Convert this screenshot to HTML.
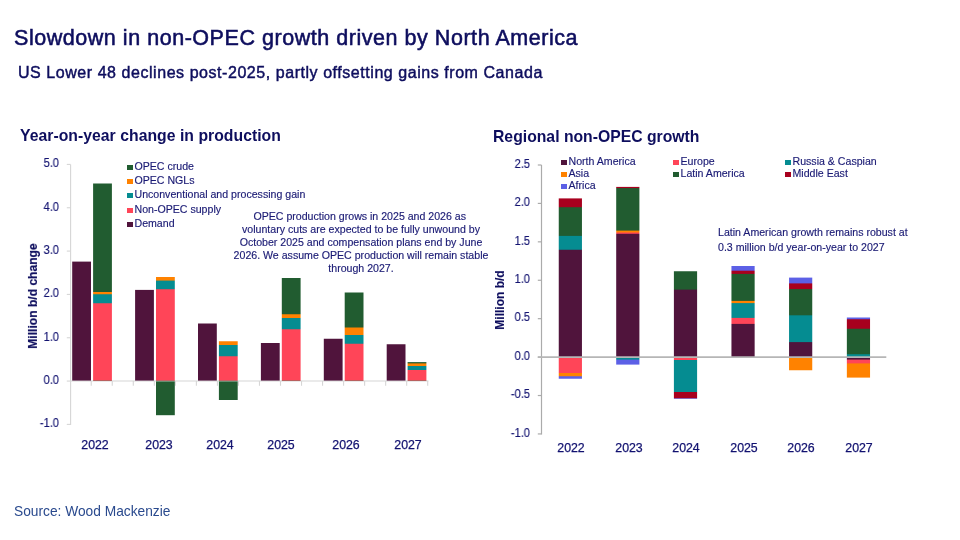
<!DOCTYPE html>
<html><head><meta charset="utf-8">
<style>
html,body{margin:0;padding:0;background:#fff;}
body{width:960px;height:540px;position:relative;overflow:hidden;font-family:"Liberation Sans",sans-serif;}
.a{position:absolute;white-space:nowrap;}
div{will-change:transform;}
#title{left:14px;top:28.25px;-webkit-text-stroke:0.55px #0e0e5e;font-size:21.5px;color:#0e0e5e;letter-spacing:0.54px;line-height:1;}
#sub{left:18px;top:65px;font-size:16px;color:#0e0e5e;letter-spacing:0.55px;-webkit-text-stroke:0.45px #0e0e5e;line-height:1;}
.ct{position:absolute;font-weight:bold;font-size:15.75px;color:#0e0e5e;white-space:nowrap;line-height:1;}
.tl{position:absolute;width:60px;text-align:right;font-size:12px;color:#121270;line-height:14px;white-space:nowrap;transform:scaleX(0.92);transform-origin:right center;-webkit-text-stroke:0.15px #121270;}
.yr{position:absolute;width:60px;text-align:center;font-size:12.35px;color:#121270;line-height:14px;-webkit-text-stroke:0.25px #121270;}
.lg{position:absolute;font-size:10.6px;color:#1a1a74;line-height:13px;white-space:nowrap;-webkit-text-stroke:0.15px #1a1a74;}
.sq{display:inline-block;width:5.5px;height:5.5px;margin-right:2px;vertical-align:0px;}
.ann{position:absolute;font-size:10.6px;color:#1a1a74;line-height:12.9px;text-align:center;white-space:nowrap;-webkit-text-stroke:0.15px #1a1a74;}
.yl{position:absolute;font-weight:bold;font-size:12px;color:#0e0e5e;white-space:nowrap;transform:rotate(-90deg);transform-origin:center;line-height:1;}
svg{position:absolute;left:0;top:0;}
</style></head><body>
<svg width="960" height="540" viewBox="0 0 960 540">
<line x1="70.6" y1="164.42000000000002" x2="70.6" y2="424.9" stroke="#d6d6d6" stroke-width="1.1"/>
<line x1="70.6" y1="381.0" x2="428.41" y2="381.0" stroke="#d6d6d6" stroke-width="1.1"/>
<line x1="66.8" y1="424.40" x2="70.6" y2="424.40" stroke="#d6d6d6" stroke-width="1.1"/>
<line x1="66.8" y1="381.07" x2="70.6" y2="381.07" stroke="#d6d6d6" stroke-width="1.1"/>
<line x1="66.8" y1="337.74" x2="70.6" y2="337.74" stroke="#d6d6d6" stroke-width="1.1"/>
<line x1="66.8" y1="294.41" x2="70.6" y2="294.41" stroke="#d6d6d6" stroke-width="1.1"/>
<line x1="66.8" y1="251.08" x2="70.6" y2="251.08" stroke="#d6d6d6" stroke-width="1.1"/>
<line x1="66.8" y1="207.75" x2="70.6" y2="207.75" stroke="#d6d6d6" stroke-width="1.1"/>
<line x1="66.8" y1="164.42" x2="70.6" y2="164.42" stroke="#d6d6d6" stroke-width="1.1"/>
<line x1="91.23" y1="381.07" x2="91.23" y2="385.77" stroke="#d6d6d6" stroke-width="1.1"/>
<line x1="112.26" y1="381.07" x2="112.26" y2="385.77" stroke="#d6d6d6" stroke-width="1.1"/>
<line x1="133.29" y1="381.07" x2="133.29" y2="385.77" stroke="#d6d6d6" stroke-width="1.1"/>
<line x1="154.32" y1="381.07" x2="154.32" y2="385.77" stroke="#d6d6d6" stroke-width="1.1"/>
<line x1="175.35" y1="381.07" x2="175.35" y2="385.77" stroke="#d6d6d6" stroke-width="1.1"/>
<line x1="196.38" y1="381.07" x2="196.38" y2="385.77" stroke="#d6d6d6" stroke-width="1.1"/>
<line x1="217.41" y1="381.07" x2="217.41" y2="385.77" stroke="#d6d6d6" stroke-width="1.1"/>
<line x1="238.44" y1="381.07" x2="238.44" y2="385.77" stroke="#d6d6d6" stroke-width="1.1"/>
<line x1="259.47" y1="381.07" x2="259.47" y2="385.77" stroke="#d6d6d6" stroke-width="1.1"/>
<line x1="280.50" y1="381.07" x2="280.50" y2="385.77" stroke="#d6d6d6" stroke-width="1.1"/>
<line x1="301.53" y1="381.07" x2="301.53" y2="385.77" stroke="#d6d6d6" stroke-width="1.1"/>
<line x1="322.56" y1="381.07" x2="322.56" y2="385.77" stroke="#d6d6d6" stroke-width="1.1"/>
<line x1="343.59" y1="381.07" x2="343.59" y2="385.77" stroke="#d6d6d6" stroke-width="1.1"/>
<line x1="364.62" y1="381.07" x2="364.62" y2="385.77" stroke="#d6d6d6" stroke-width="1.1"/>
<line x1="385.65" y1="381.07" x2="385.65" y2="385.77" stroke="#d6d6d6" stroke-width="1.1"/>
<line x1="406.68" y1="381.07" x2="406.68" y2="385.77" stroke="#d6d6d6" stroke-width="1.1"/>
<line x1="427.71" y1="381.07" x2="427.71" y2="385.77" stroke="#d6d6d6" stroke-width="1.1"/>
<mask id="c1" maskUnits="userSpaceOnUse" x="0" y="0" width="960" height="540"><rect x="72.20" y="0" width="18.80" height="540" fill="#fff"/></mask><g mask="url(#c1)"><rect x="69.20" y="261.60" width="24.80" height="119.00" fill="#50143c"/></g>
<mask id="c2" maskUnits="userSpaceOnUse" x="0" y="0" width="960" height="540"><rect x="93.10" y="0" width="18.80" height="540" fill="#fff"/></mask><g mask="url(#c2)"><rect x="90.10" y="183.50" width="24.80" height="197.10" fill="#215c30"/><rect x="90.10" y="292.00" width="24.80" height="88.60" fill="#ff8200"/><rect x="90.10" y="294.25" width="24.80" height="86.35" fill="#058c91"/><rect x="90.10" y="303.25" width="24.80" height="77.35" fill="#ff4558"/></g>
<mask id="c3" maskUnits="userSpaceOnUse" x="0" y="0" width="960" height="540"><rect x="135.10" y="0" width="18.80" height="540" fill="#fff"/></mask><g mask="url(#c3)"><rect x="132.10" y="289.90" width="24.80" height="90.70" fill="#50143c"/></g>
<mask id="c4" maskUnits="userSpaceOnUse" x="0" y="0" width="960" height="540"><rect x="156.00" y="0" width="18.80" height="540" fill="#fff"/></mask><g mask="url(#c4)"><rect x="153.00" y="277.00" width="24.80" height="103.60" fill="#ff8200"/><rect x="153.00" y="280.60" width="24.80" height="100.00" fill="#058c91"/><rect x="153.00" y="289.20" width="24.80" height="91.40" fill="#ff4558"/><rect x="153.00" y="381.35" width="24.80" height="33.85" fill="#215c30"/></g>
<mask id="c5" maskUnits="userSpaceOnUse" x="0" y="0" width="960" height="540"><rect x="198.00" y="0" width="18.80" height="540" fill="#fff"/></mask><g mask="url(#c5)"><rect x="195.00" y="323.50" width="24.80" height="57.10" fill="#50143c"/></g>
<mask id="c6" maskUnits="userSpaceOnUse" x="0" y="0" width="960" height="540"><rect x="218.90" y="0" width="18.80" height="540" fill="#fff"/></mask><g mask="url(#c6)"><rect x="215.90" y="341.25" width="24.80" height="39.35" fill="#ff8200"/><rect x="215.90" y="345.00" width="24.80" height="35.60" fill="#058c91"/><rect x="215.90" y="356.25" width="24.80" height="24.35" fill="#ff4558"/><rect x="215.90" y="381.35" width="24.80" height="18.65" fill="#215c30"/></g>
<mask id="c7" maskUnits="userSpaceOnUse" x="0" y="0" width="960" height="540"><rect x="260.90" y="0" width="18.80" height="540" fill="#fff"/></mask><g mask="url(#c7)"><rect x="257.90" y="343.00" width="24.80" height="37.60" fill="#50143c"/></g>
<mask id="c8" maskUnits="userSpaceOnUse" x="0" y="0" width="960" height="540"><rect x="281.80" y="0" width="18.80" height="540" fill="#fff"/></mask><g mask="url(#c8)"><rect x="278.80" y="278.00" width="24.80" height="102.60" fill="#215c30"/><rect x="278.80" y="314.25" width="24.80" height="66.35" fill="#ff8200"/><rect x="278.80" y="318.00" width="24.80" height="62.60" fill="#058c91"/><rect x="278.80" y="329.25" width="24.80" height="51.35" fill="#ff4558"/></g>
<mask id="c9" maskUnits="userSpaceOnUse" x="0" y="0" width="960" height="540"><rect x="323.80" y="0" width="18.80" height="540" fill="#fff"/></mask><g mask="url(#c9)"><rect x="320.80" y="338.75" width="24.80" height="41.85" fill="#50143c"/></g>
<mask id="c10" maskUnits="userSpaceOnUse" x="0" y="0" width="960" height="540"><rect x="344.70" y="0" width="18.80" height="540" fill="#fff"/></mask><g mask="url(#c10)"><rect x="341.70" y="292.50" width="24.80" height="88.10" fill="#215c30"/><rect x="341.70" y="327.50" width="24.80" height="53.10" fill="#ff8200"/><rect x="341.70" y="335.00" width="24.80" height="45.60" fill="#058c91"/><rect x="341.70" y="343.75" width="24.80" height="36.85" fill="#ff4558"/></g>
<mask id="c11" maskUnits="userSpaceOnUse" x="0" y="0" width="960" height="540"><rect x="386.70" y="0" width="18.80" height="540" fill="#fff"/></mask><g mask="url(#c11)"><rect x="383.70" y="344.25" width="24.80" height="36.35" fill="#50143c"/></g>
<mask id="c12" maskUnits="userSpaceOnUse" x="0" y="0" width="960" height="540"><rect x="407.60" y="0" width="18.80" height="540" fill="#fff"/></mask><g mask="url(#c12)"><rect x="404.60" y="362.10" width="24.80" height="18.50" fill="#215c30"/><rect x="404.60" y="363.40" width="24.80" height="17.20" fill="#ff8200"/><rect x="404.60" y="366.00" width="24.80" height="14.60" fill="#058c91"/><rect x="404.60" y="370.00" width="24.80" height="10.60" fill="#ff4558"/></g>
<mask id="c13" maskUnits="userSpaceOnUse" x="0" y="0" width="960" height="540"><rect x="558.75" y="0" width="23.20" height="540" fill="#fff"/></mask><g mask="url(#c13)"><rect x="555.75" y="198.40" width="29.20" height="158.70" fill="#a8001e"/><rect x="555.75" y="207.20" width="29.20" height="149.90" fill="#215c30"/><rect x="555.75" y="235.90" width="29.20" height="121.20" fill="#058c91"/><rect x="555.75" y="249.75" width="29.20" height="107.35" fill="#50143c"/><rect x="555.75" y="357.10" width="29.20" height="21.65" fill="#5c60e6"/><rect x="555.75" y="357.10" width="29.20" height="19.15" fill="#ff8200"/><rect x="555.75" y="357.10" width="29.20" height="15.90" fill="#ff4558"/></g>
<mask id="c14" maskUnits="userSpaceOnUse" x="0" y="0" width="960" height="540"><rect x="616.20" y="0" width="23.20" height="540" fill="#fff"/></mask><g mask="url(#c14)"><rect x="613.20" y="186.90" width="29.20" height="170.20" fill="#a8001e"/><rect x="613.20" y="188.10" width="29.20" height="169.00" fill="#215c30"/><rect x="613.20" y="230.60" width="29.20" height="126.50" fill="#ff8200"/><rect x="613.20" y="232.50" width="29.20" height="124.60" fill="#ff4558"/><rect x="613.20" y="233.80" width="29.20" height="123.30" fill="#50143c"/><rect x="613.20" y="357.10" width="29.20" height="7.50" fill="#5c60e6"/><rect x="613.20" y="357.10" width="29.20" height="2.50" fill="#058c91"/></g>
<mask id="c15" maskUnits="userSpaceOnUse" x="0" y="0" width="960" height="540"><rect x="673.90" y="0" width="23.20" height="540" fill="#fff"/></mask><g mask="url(#c15)"><rect x="670.90" y="271.25" width="29.20" height="85.85" fill="#215c30"/><rect x="670.90" y="289.60" width="29.20" height="67.50" fill="#50143c"/><rect x="670.90" y="357.10" width="29.20" height="41.65" fill="#5c60e6"/><rect x="670.90" y="357.10" width="29.20" height="41.15" fill="#a8001e"/><rect x="670.90" y="357.10" width="29.20" height="34.90" fill="#058c91"/><rect x="670.90" y="357.10" width="29.20" height="2.90" fill="#ff4558"/></g>
<mask id="c16" maskUnits="userSpaceOnUse" x="0" y="0" width="960" height="540"><rect x="731.45" y="0" width="23.20" height="540" fill="#fff"/></mask><g mask="url(#c16)"><rect x="728.45" y="266.00" width="29.20" height="91.10" fill="#5c60e6"/><rect x="728.45" y="270.70" width="29.20" height="86.40" fill="#a8001e"/><rect x="728.45" y="273.90" width="29.20" height="83.20" fill="#215c30"/><rect x="728.45" y="300.90" width="29.20" height="56.20" fill="#ff8200"/><rect x="728.45" y="303.10" width="29.20" height="54.00" fill="#058c91"/><rect x="728.45" y="317.90" width="29.20" height="39.20" fill="#ff4558"/><rect x="728.45" y="323.90" width="29.20" height="33.20" fill="#50143c"/></g>
<mask id="c17" maskUnits="userSpaceOnUse" x="0" y="0" width="960" height="540"><rect x="789.05" y="0" width="23.20" height="540" fill="#fff"/></mask><g mask="url(#c17)"><rect x="786.05" y="277.60" width="29.20" height="79.50" fill="#5c60e6"/><rect x="786.05" y="283.40" width="29.20" height="73.70" fill="#a8001e"/><rect x="786.05" y="289.10" width="29.20" height="68.00" fill="#215c30"/><rect x="786.05" y="315.30" width="29.20" height="41.80" fill="#058c91"/><rect x="786.05" y="342.10" width="29.20" height="15.00" fill="#50143c"/><rect x="786.05" y="357.10" width="29.20" height="13.15" fill="#ff8200"/></g>
<mask id="c18" maskUnits="userSpaceOnUse" x="0" y="0" width="960" height="540"><rect x="846.85" y="0" width="23.20" height="540" fill="#fff"/></mask><g mask="url(#c18)"><rect x="843.85" y="317.50" width="29.20" height="39.60" fill="#5c60e6"/><rect x="843.85" y="319.25" width="29.20" height="37.85" fill="#a8001e"/><rect x="843.85" y="328.75" width="29.20" height="28.35" fill="#215c30"/><rect x="843.85" y="354.25" width="29.20" height="2.85" fill="#058c91"/><rect x="843.85" y="357.10" width="29.20" height="20.50" fill="#ff8200"/><rect x="843.85" y="357.10" width="29.20" height="6.30" fill="#ff4558"/><rect x="843.85" y="357.10" width="29.20" height="2.50" fill="#50143c"/></g>
<line x1="541.5" y1="165.0" x2="541.5" y2="434.44000000000005" stroke="#ababab" stroke-width="1.2"/>
<line x1="537.8" y1="433.94" x2="541.5" y2="433.94" stroke="#ababab" stroke-width="1.2"/>
<line x1="537.8" y1="395.52" x2="541.5" y2="395.52" stroke="#ababab" stroke-width="1.2"/>
<line x1="537.8" y1="357.10" x2="541.5" y2="357.10" stroke="#ababab" stroke-width="1.2"/>
<line x1="537.8" y1="318.68" x2="541.5" y2="318.68" stroke="#ababab" stroke-width="1.2"/>
<line x1="537.8" y1="280.26" x2="541.5" y2="280.26" stroke="#ababab" stroke-width="1.2"/>
<line x1="537.8" y1="241.84" x2="541.5" y2="241.84" stroke="#ababab" stroke-width="1.2"/>
<line x1="537.8" y1="203.42" x2="541.5" y2="203.42" stroke="#ababab" stroke-width="1.2"/>
<line x1="537.8" y1="165.00" x2="541.5" y2="165.00" stroke="#ababab" stroke-width="1.2"/>
<line x1="537.8" y1="357.1" x2="886.3" y2="357.1" stroke="#b6b6b6" stroke-width="1.9"/>
</svg>
<div class="a" id="title">Slowdown in non-OPEC growth driven by North America</div>
<div class="a" id="sub">US Lower 48 declines post-2025, partly offsetting gains from Canada</div>
<div class="ct" style="left:20px;top:128.4px;letter-spacing:0.03px">Year-on-year change in production</div>
<div class="ct" style="left:492.5px;top:128.9px">Regional non-OPEC growth</div>
<div class="tl" style="left:-0.7000000000000028px;top:156.42px">5.0</div>
<div class="tl" style="left:-0.7000000000000028px;top:199.75px">4.0</div>
<div class="tl" style="left:-0.7000000000000028px;top:243.08px">3.0</div>
<div class="tl" style="left:-0.7000000000000028px;top:286.41px">2.0</div>
<div class="tl" style="left:-0.7000000000000028px;top:329.74px">1.0</div>
<div class="tl" style="left:-0.7000000000000028px;top:373.07px">0.0</div>
<div class="tl" style="left:-0.7000000000000028px;top:416.40px">-1.0</div>
<div class="tl" style="left:470.20000000000005px;top:156.75px">2.5</div>
<div class="tl" style="left:470.20000000000005px;top:195.17px">2.0</div>
<div class="tl" style="left:470.20000000000005px;top:233.59px">1.5</div>
<div class="tl" style="left:470.20000000000005px;top:272.01px">1.0</div>
<div class="tl" style="left:470.20000000000005px;top:310.43px">0.5</div>
<div class="tl" style="left:470.20000000000005px;top:348.85px">0.0</div>
<div class="tl" style="left:470.20000000000005px;top:387.27px">-0.5</div>
<div class="tl" style="left:470.20000000000005px;top:425.69px">-1.0</div>
<div class="yr" style="left:65.45px;top:438.3px">2022</div>
<div class="yr" style="left:128.75px;top:438.3px">2023</div>
<div class="yr" style="left:189.50px;top:438.3px">2024</div>
<div class="yr" style="left:250.50px;top:438.3px">2025</div>
<div class="yr" style="left:315.50px;top:438.3px">2026</div>
<div class="yr" style="left:377.50px;top:438.3px">2027</div>
<div class="yr" style="left:540.75px;top:441.3px">2022</div>
<div class="yr" style="left:598.50px;top:441.3px">2023</div>
<div class="yr" style="left:656.00px;top:441.3px">2024</div>
<div class="yr" style="left:713.75px;top:441.3px">2025</div>
<div class="yr" style="left:771.25px;top:441.3px">2026</div>
<div class="yr" style="left:828.75px;top:441.3px">2027</div>
<div class="lg" style="left:127px;top:160px"><span class="sq" style="background:#215c30"></span>OPEC crude</div>
<div class="lg" style="left:127px;top:174.2px"><span class="sq" style="background:#ff8200"></span>OPEC NGLs</div>
<div class="lg" style="left:127px;top:188.4px"><span class="sq" style="background:#058c91"></span>Unconventional and processing gain</div>
<div class="lg" style="left:127px;top:202.6px"><span class="sq" style="background:#ff4558"></span>Non-OPEC supply</div>
<div class="lg" style="left:127px;top:216.8px"><span class="sq" style="background:#50143c"></span>Demand</div>

<div class="lg" style="left:560.75px;top:154.5px"><span class="sq" style="background:#50143c"></span>North America</div>
<div class="lg" style="left:560.75px;top:166.5px"><span class="sq" style="background:#ff8200"></span>Asia</div>
<div class="lg" style="left:560.75px;top:178.5px"><span class="sq" style="background:#5c60e6"></span>Africa</div>
<div class="lg" style="left:673.25px;top:154.5px"><span class="sq" style="background:#ff4558"></span>Europe</div>
<div class="lg" style="left:673.25px;top:166.5px"><span class="sq" style="background:#215c30"></span>Latin America</div>
<div class="lg" style="left:785.25px;top:154.5px"><span class="sq" style="background:#058c91"></span>Russia &amp; Caspian</div>
<div class="lg" style="left:785.25px;top:166.5px"><span class="sq" style="background:#a8001e"></span>Middle East</div>

<div class="ann" style="left:211px;width:300px;top:210.4px"><span style="position:relative;left:-1.25px">OPEC production grows in 2025 and 2026 as</span><br>voluntary cuts are expected to be fully unwound by<br>October 2025 and compensation plans end by June<br>2026. We assume OPEC production will remain stable<br>through 2027.</div>
<div class="ann" style="left:718px;top:225px;text-align:left;line-height:15px">Latin American growth remains robust at<br>0.3 million b/d year-on-year to 2027</div>

<div class="yl" style="left:-21.25px;top:289.75px;width:108px;text-align:center;font-size:12.1px;-webkit-text-stroke:0.2px #0e0e5e">Million b/d change</div>
<div class="yl" style="left:470px;top:294.4px;width:60px;text-align:center;-webkit-text-stroke:0.15px #0e0e5e">Million b/d</div>

<div class="a" style="left:14px;top:505.25px;font-size:13.75px;color:#2a4a8e;line-height:1">Source: Wood Mackenzie</div>
</body></html>
